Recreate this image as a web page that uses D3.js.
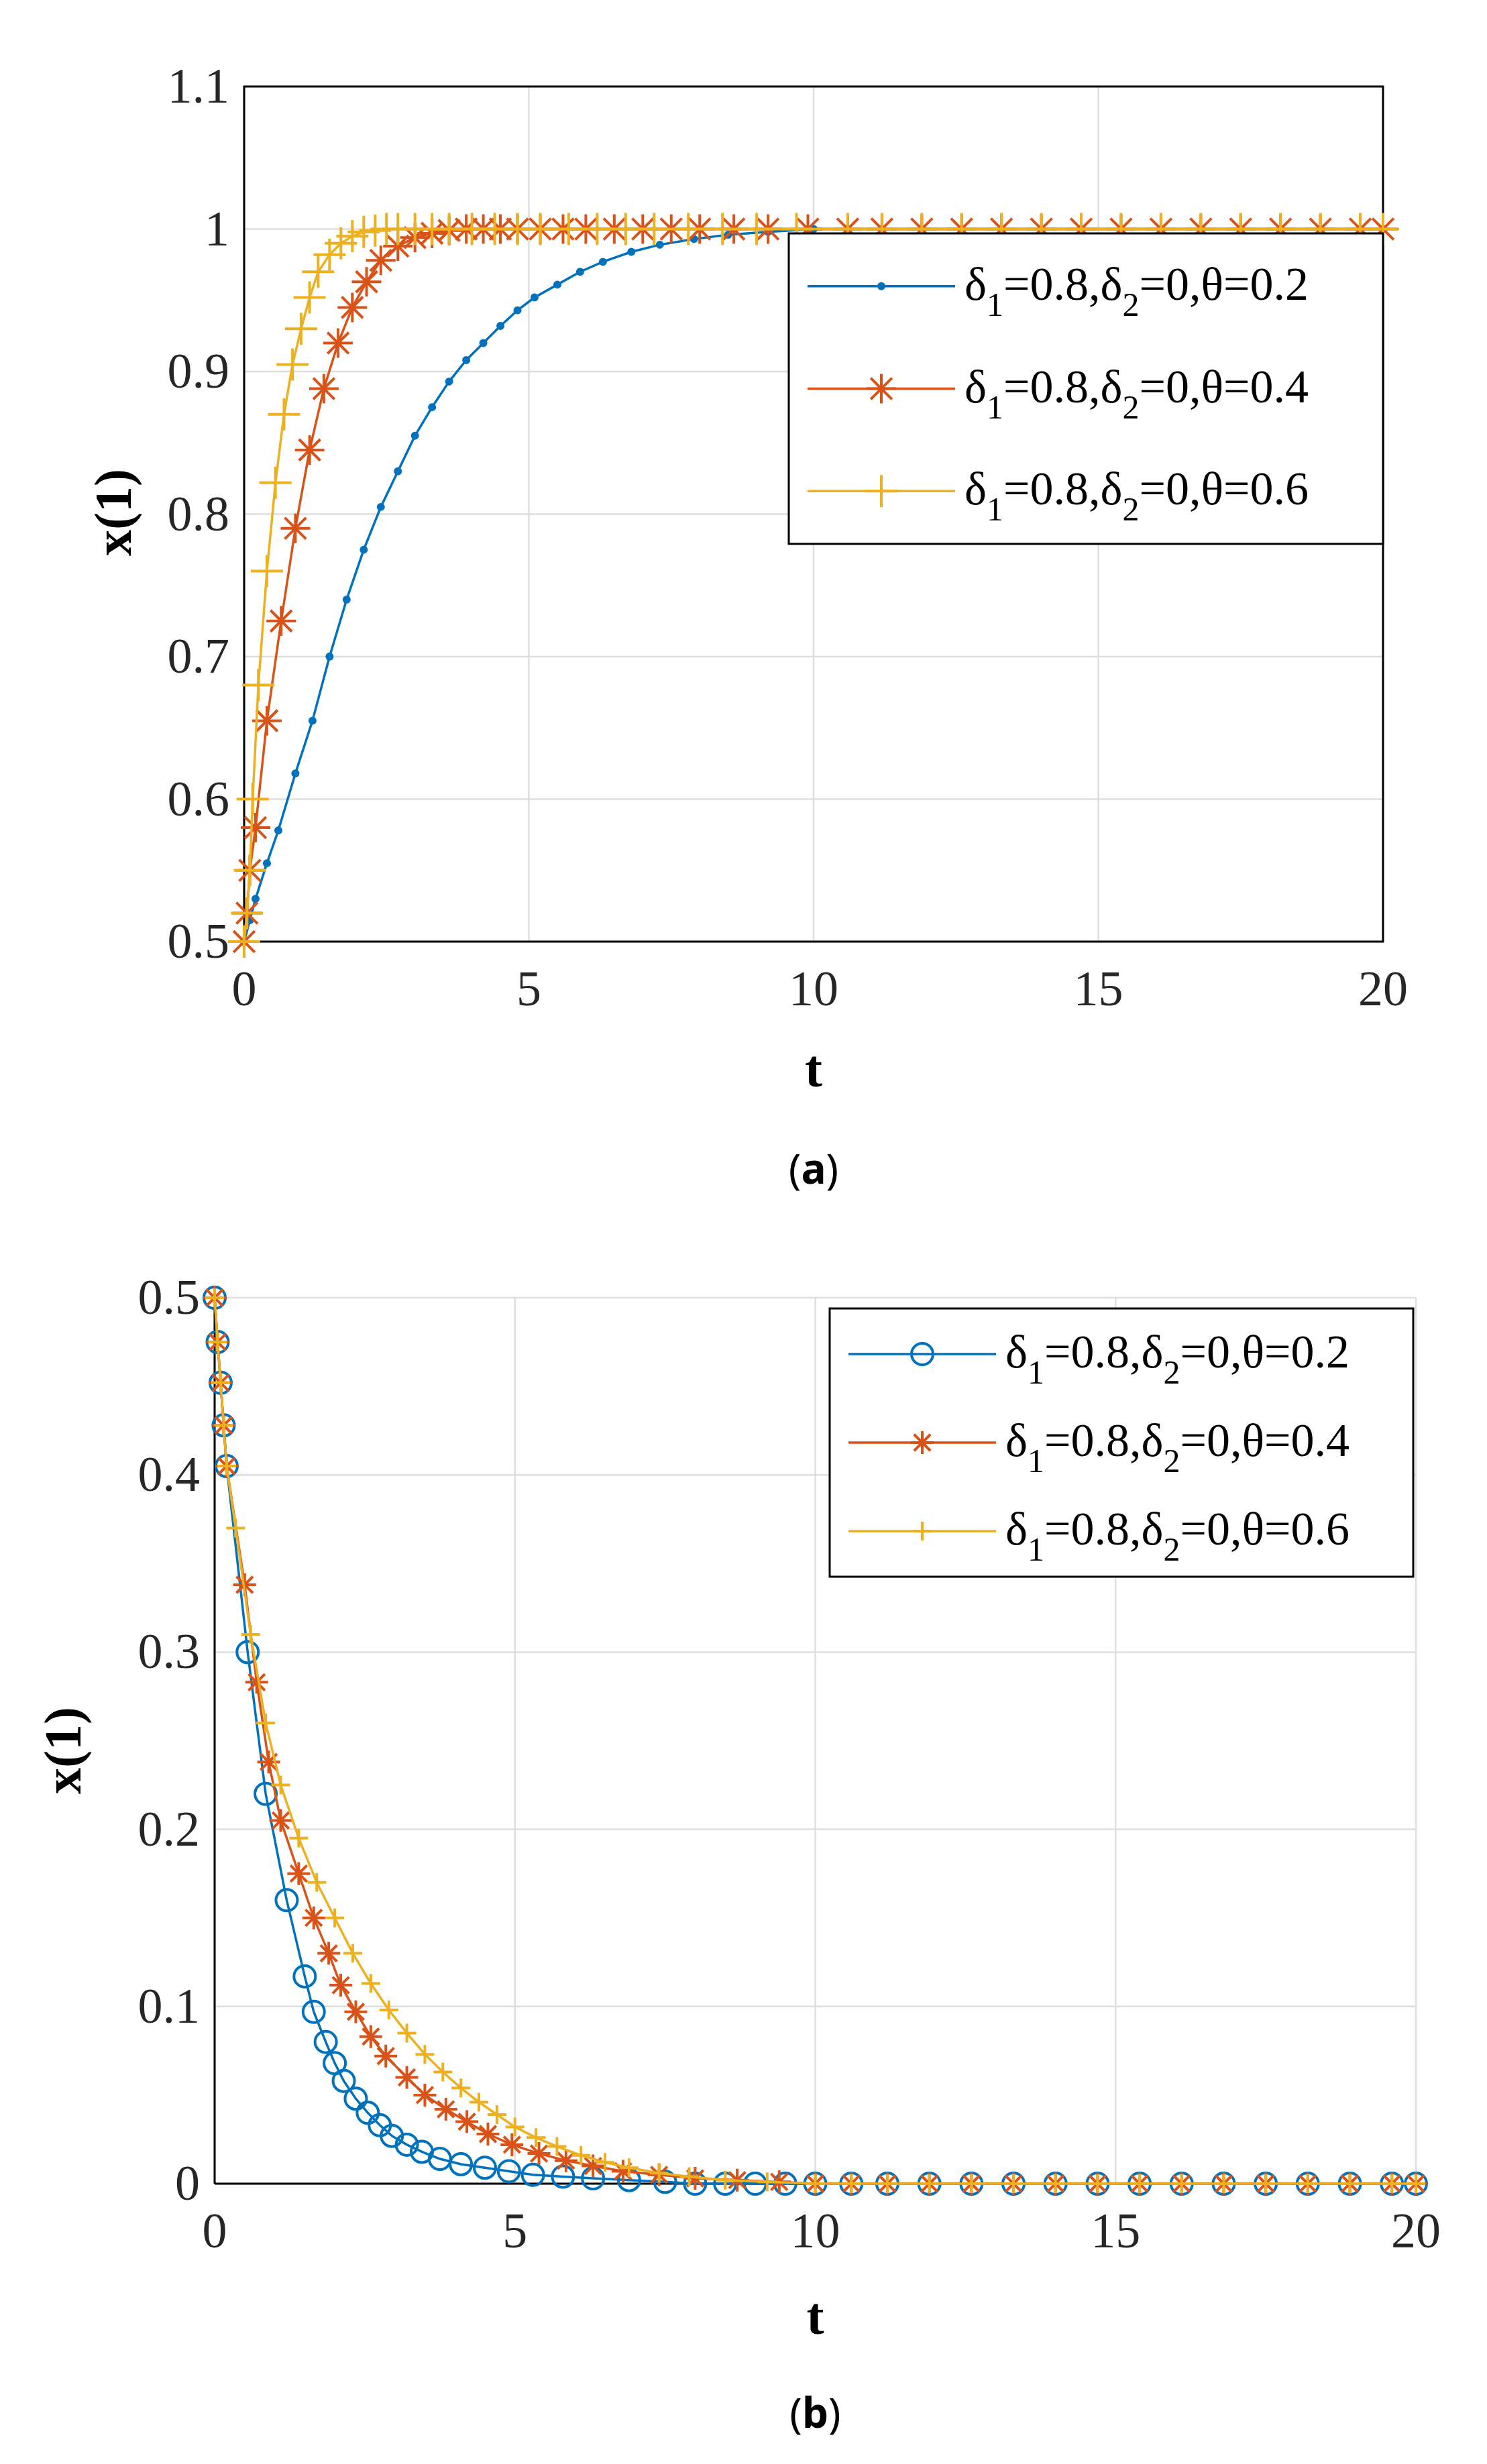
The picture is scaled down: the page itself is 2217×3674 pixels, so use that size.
<!DOCTYPE html>
<html><head><meta charset="utf-8">
<script src="https://cdn.jsdelivr.net/npm/d3@7"></script>
<style>body{margin:0;background:#fff}svg{display:block}svg text{font-family:'Liberation Serif','DejaVu Serif',serif}</style>
</head><body>
<svg id="c" width="2217" height="3674"></svg>
<script>
const tail=[10.6,11.2,11.9,12.6,13.3,14,14.7,15.4,16.1,16.8,17.5,18.2,18.9,19.6,20];
// (a)
const aBlueT=[0,0.1,0.2,0.4,0.6,0.9,1.2,1.5,1.8,2.1,2.4,2.7,3.0,3.3,3.6,3.9,4.2,4.5,4.8,5.1,5.5,5.9,6.3,6.8,7.3,7.9,8.5,9.2,10];
const aBlueV=[0.5,0.515,0.53,0.555,0.578,0.618,0.655,0.7,0.74,0.775,0.805,0.83,0.855,0.875,0.893,0.908,0.92,0.932,0.943,0.952,0.961,0.97,0.977,0.984,0.989,0.993,0.996,0.998,1.0];
const aRedT=[0,0.05,0.1,0.2,0.4,0.65,0.9,1.15,1.4,1.65,1.9,2.15,2.4,2.7,3.0,3.3,3.6,3.9,4.2,4.5,4.8,5.2,5.6,6.0,6.5,7.0,7.5,8.0,8.6,9.2,9.9];
const aRedV=[0.5,0.52,0.55,0.58,0.655,0.725,0.79,0.845,0.888,0.92,0.945,0.963,0.978,0.988,0.994,0.997,0.999,1,1,1,1,1,1,1,1,1,1,1,1,1,1];
const aYelT=[0,0.05,0.1,0.15,0.25,0.4,0.55,0.7,0.85,1.0,1.15,1.3,1.5,1.7,1.9,2.1,2.3,2.5,2.7,3.0,3.3,3.6,4.0,4.4,4.8,5.2,5.7,6.2,6.7,7.2,7.8,8.4,9.0,9.7];
const aYelV=[0.5,0.52,0.55,0.6,0.68,0.76,0.822,0.87,0.905,0.93,0.952,0.97,0.982,0.99,0.995,0.998,0.999,1,1,1,1,1,1,1,1,1,1,1,1,1,1,1,1,1];
// (b)
const bBlueT=[0,0.05,0.1,0.15,0.2,0.55,0.85,1.2,1.5,1.65,1.85,2.0,2.15,2.35,2.55,2.75,2.95,3.2,3.45,3.75,4.1,4.5,4.9,5.3,5.8,6.3,6.9,7.5,8.0,8.5,9.0,9.5,10.0];
const bBlueV=[0.5,0.475,0.452,0.428,0.405,0.30,0.22,0.16,0.117,0.097,0.08,0.068,0.058,0.048,0.04,0.033,0.027,0.022,0.018,0.014,0.011,0.009,0.007,0.005,0.004,0.003,0.002,0.001,0,0,0,0,0];
const bRedT=[0,0.05,0.1,0.15,0.2,0.5,0.7,0.9,1.1,1.4,1.65,1.9,2.1,2.35,2.6,2.85,3.2,3.5,3.85,4.2,4.55,4.95,5.4,5.85,6.3,6.8,7.4,8.0,8.7,9.4,10.0];
const bRedV=[0.5,0.475,0.452,0.428,0.405,0.338,0.283,0.238,0.205,0.175,0.15,0.13,0.112,0.097,0.083,0.072,0.06,0.05,0.042,0.035,0.028,0.022,0.017,0.013,0.01,0.007,0.005,0.003,0.002,0.001,0];
const bYelT=[0,0.05,0.1,0.15,0.2,0.35,0.6,0.85,1.1,1.4,1.7,2.0,2.3,2.6,2.9,3.2,3.5,3.8,4.1,4.4,4.7,5.0,5.35,5.7,6.1,6.5,6.9,7.4,7.9,8.5,9.2,10.0];
const bYelV=[0.5,0.475,0.452,0.428,0.405,0.37,0.31,0.26,0.225,0.195,0.17,0.15,0.13,0.113,0.098,0.085,0.073,0.063,0.054,0.046,0.039,0.032,0.026,0.021,0.016,0.012,0.009,0.006,0.004,0.002,0.001,0];
const xTicks=[0,5,10,15,20];
const aYTicks=[0.5,0.6,0.7,0.8,0.9,1,1.1];
const bYTicks=[0,0.1,0.2,0.3,0.4,0.5];
const legendLabels=["0.2","0.4","0.6"];
const colors=["#0072BD","#D95319","#EDB120"];

const svg=d3.select("#c");

function star(s){const r=s/2,d=r*0.72;
  return `M${-r},0L${r},0M0,${-r}L0,${r}M${-d},${-d}L${d},${d}M${-d},${d}L${d},${-d}`;}
function plus(s){const r=s/2;return `M${-r},0L${r},0M0,${-r}L0,${r}`;}

function drawMarker(g,type,x,y,col,size){
  if(type==="dot") g.append("circle").attr("cx",x).attr("cy",y).attr("r",size).attr("fill",col);
  else if(type==="circle") g.append("circle").attr("cx",x).attr("cy",y).attr("r",size).attr("fill","none").attr("stroke",col).attr("stroke-width",4);
  else if(type==="star") g.append("path").attr("d",star(size)).attr("transform",`translate(${x},${y})`).attr("stroke",col).attr("stroke-width",4).attr("fill","none");
  else g.append("path").attr("d",plus(size)).attr("transform",`translate(${x},${y})`).attr("stroke",col).attr("stroke-width",4).attr("fill","none");
}

function panel(cfg){
  const x=d3.scaleLinear().domain([0,20]).range([cfg.L,cfg.R]);
  const y=d3.scaleLinear().domain(cfg.yd).range([cfg.B,cfg.T]);
  const g=svg.append("g");
  g.selectAll(null).data(xTicks).enter().append("line").attr("x1",d=>x(d)).attr("x2",d=>x(d)).attr("y1",cfg.T).attr("y2",cfg.B).attr("stroke","#dedede").attr("stroke-width",2.5);
  g.selectAll(null).data(cfg.yt).enter().append("line").attr("y1",d=>y(d)).attr("y2",d=>y(d)).attr("x1",cfg.L).attr("x2",cfg.R).attr("stroke","#dedede").attr("stroke-width",2.5);
  if(cfg.box) g.append("rect").attr("x",cfg.L).attr("y",cfg.T).attr("width",cfg.R-cfg.L).attr("height",cfg.B-cfg.T).attr("fill","none").attr("stroke","#000").attr("stroke-width",3);
  else { g.append("line").attr("x1",cfg.L).attr("x2",cfg.R).attr("y1",cfg.B).attr("y2",cfg.B).attr("stroke","#000").attr("stroke-width",3);
         g.append("line").attr("x1",cfg.L).attr("x2",cfg.L).attr("y1",cfg.T).attr("y2",cfg.B).attr("stroke","#000").attr("stroke-width",3);}
  g.selectAll(null).data(xTicks).enter().append("text").attr("x",d=>x(d)).attr("y",cfg.B+95).attr("text-anchor","middle").attr("font-size",74).attr("fill","#262626").text(d=>d);
  g.selectAll(null).data(cfg.yt).enter().append("text").attr("x",cfg.L-22).attr("y",d=>y(d)+24).attr("text-anchor","end").attr("font-size",74).attr("fill","#262626").text(d=>d);
  g.append("text").attr("x",(cfg.L+cfg.R)/2).attr("y",cfg.tY).attr("text-anchor","middle").attr("font-weight","bold").attr("font-size",78).text("t");
  g.append("text").attr("transform",`translate(${cfg.ylX},${cfg.ylY}) rotate(-90)`).attr("text-anchor","middle").attr("font-weight","bold").attr("font-size",78).text("x(1)");
  g.append("text").attr("x",(cfg.L+cfg.R)/2).attr("y",cfg.capY).attr("text-anchor","middle").attr("style","font-family:'Noto Sans',sans-serif").attr("font-size",62).html(cfg.cap);
  cfg.series.forEach((s,i)=>{
    const T=s.t.concat(tail), V=s.v.concat(tail.map(()=>s.end));
    const pts=T.map((t,k)=>[x(t),y(V[k])]);
    g.append("path").attr("d",d3.line()(pts)).attr("fill","none").attr("stroke",colors[i]).attr("stroke-width",3.5);
    pts.forEach(p=>drawMarker(g,s.m,p[0],p[1],colors[i],s.size));
  });
  const lg=svg.append("g");
  lg.append("rect").attr("x",cfg.lx).attr("y",cfg.ly).attr("width",cfg.lw).attr("height",cfg.lh).attr("fill","#fff").attr("stroke","#000").attr("stroke-width",3);
  cfg.series.forEach((s,i)=>{
    const yy=cfg.ly+cfg.lh*(0.17+0.33*i);
    lg.append("line").attr("x1",cfg.lx+28).attr("x2",cfg.lx+248).attr("y1",yy).attr("y2",yy).attr("stroke",colors[i]).attr("stroke-width",3.5);
    drawMarker(lg,s.m,cfg.lx+138,yy,colors[i],s.size);
    const t=lg.append("text").attr("x",cfg.lx+262).attr("y",yy+20).attr("font-size",70).attr("fill","#000");
    t.append("tspan").text("δ");
    t.append("tspan").attr("font-size",50).attr("dy",24).text("1");
    t.append("tspan").attr("dy",-24).text("=0.8,δ");
    t.append("tspan").attr("font-size",50).attr("dy",24).text("2");
    t.append("tspan").attr("dy",-24).text("=0,θ="+legendLabels[i]);
  });
}

panel({L:364,R:2062,T:129,B:1404,yd:[0.5,1.1],yt:aYTicks,box:true,tY:1620,ylX:195,ylY:764,capY:1765,cap:"(<tspan font-weight='bold'>a</tspan>)",
  series:[{t:aBlueT,v:aBlueV,end:1,m:"dot",size:6},{t:aRedT,v:aRedV,end:1,m:"star",size:44},{t:aYelT,v:aYelV,end:1,m:"plus",size:48}],
  lx:1176,ly:348,lw:886,lh:463});
panel({L:320,R:2111,T:1935,B:3256,yd:[0,0.5],yt:bYTicks,box:false,tY:3480,ylX:120,ylY:2610,capY:3620,cap:"(<tspan font-weight='bold'>b</tspan>)",
  series:[{t:bBlueT,v:bBlueV,end:0,m:"circle",size:16},{t:bRedT,v:bRedV,end:0,m:"star",size:34},{t:bYelT,v:bYelV,end:0,m:"plus",size:28}],
  lx:1237,ly:1951,lw:870,lh:400});
</script>
</body></html>
